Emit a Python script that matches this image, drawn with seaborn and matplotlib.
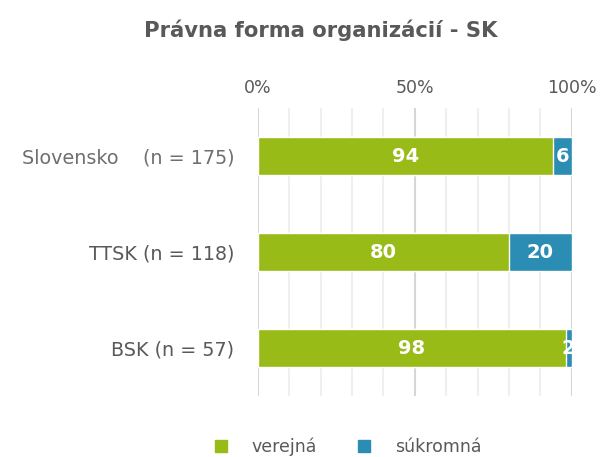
import matplotlib
matplotlib.use("Agg")
import matplotlib.pyplot as plt
import seaborn as sns
import pandas as pd
from matplotlib.ticker import MultipleLocator
from matplotlib.lines import Line2D

# data
kraje = ["Slovensko    (n = 175)", "TTSK (n = 118)", "BSK (n = 57)"]
verejna = [94, 80, 98]
sukromna = [6, 20, 2]
tick_labels = ["0%", "50%", "100%"]

green = "#99bb17"
blue = "#2b8db3"
grey = "#595959"

sns.set_theme(style="white")
plt.rcParams['font.family'] = ['DejaVu Sans']

df = pd.DataFrame({"kraj": kraje, "verejna": verejna, "sukromna": sukromna})
df["spolu"] = df["verejna"] + df["sukromna"]

fig = plt.figure(figsize=(6.01, 4.57), dpi=100)
ax = fig.add_axes([0.429, 0.1335, 0.5225, 0.630])

# modra ako celok, zelena cez nu
sns.barplot(data=df, x="spolu", y="kraj", color=blue, orient="h", width=0.4,
            saturation=1, ax=ax, zorder=3)
sns.barplot(data=df, x="verejna", y="kraj", color=green, orient="h", width=0.4,
            saturation=1, ax=ax, zorder=3)

for i, row in df.iterrows():
    ax.text(row["verejna"] / 2, i, str(row["verejna"]), ha="center", va="center",
            color="white", fontsize=14, fontweight="bold", zorder=5)
    ax.text(row["verejna"] + row["sukromna"] / 2, i, str(row["sukromna"]),
            ha="center", va="center", color="white", fontsize=14,
            fontweight="bold", zorder=5, clip_on=True)

ax.set_xlim(0, 100)
ax.set_ylim(2.5, -0.5)
ax.set_xticks([0, 50, 100])
ax.set_xticklabels(tick_labels)
ax.xaxis.set_minor_locator(MultipleLocator(10))
ax.xaxis.tick_top()
ax.tick_params(axis="x", which="both", length=0, pad=8, labelsize=12.5, labelcolor=grey)
ax.tick_params(axis="y", length=0, pad=17, labelsize=13.8, labelcolor=grey)
ax.grid(axis="x", which="minor", color="#efefef", linewidth=1.5, zorder=0)
ax.grid(axis="x", which="major", color="#d6d6d6", linewidth=1.5, zorder=1)
ax.grid(axis="y", visible=False)
for s in ax.spines.values():
    s.set_visible(False)
ax.set_xlabel("")
ax.set_ylabel("")
ax.get_yticklabels()[0].set_color("#6f6f6f")

fig.text(0.534, 0.934, "Právna forma organizácií - SK", ha="center", va="center",
         fontsize=15.2, fontweight="bold", color=grey)

handles = [Line2D([], [], marker="s", linestyle="", markersize=9, color=green),
           Line2D([], [], marker="s", linestyle="", markersize=9, color=blue)]
fig.legend(handles, ["verejná", "súkromná"], loc="center", bbox_to_anchor=(0.57, 0.022),
           ncol=2, frameon=False, fontsize=12.5, labelcolor=grey, handletextpad=0.8,
           columnspacing=1.7)

plt.savefig("out.png", dpi=100)
